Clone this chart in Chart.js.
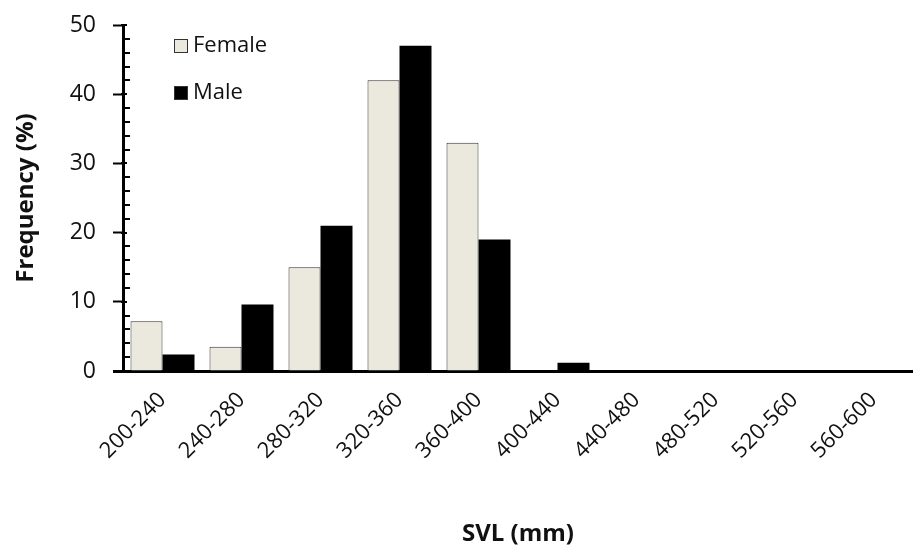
<!DOCTYPE html>
<html>
<head>
<meta charset="utf-8">
<script src="https://cdn.jsdelivr.net/npm/chart.js@4/dist/chart.umd.min.js"></script>
<style>
  html, body { margin: 0; padding: 0; background: #fff; }
  #wrap { width: 913px; height: 555px; }
</style>
</head>
<body>
<div id="wrap"><canvas id="canvas"></canvas></div>
<script>
// DATA
var svlClasses = ['200-240','240-280','280-320','320-360','360-400','400-440','440-480','480-520','520-560','560-600'];
var femaleFreq = [7.2, 3.5, 15, 42, 33, 0, 0, 0, 0, 0];
var maleFreq   = [2.4, 9.6, 21, 47, 19, 1.2, 0, 0, 0, 0];
var yTicks = [0, 10, 20, 30, 40, 50];

var FONT = '"Open Sans", Lato, sans-serif';

// legend in the top-left of the plot + minor ticks on y axis
var extras = {
  id: 'extras',
  afterDraw: function(chart) {
    var ctx = chart.ctx;
    var area = chart.chartArea;
    var y = chart.scales.y;
    ctx.save();
    // minor ticks
    ctx.strokeStyle = '#000';
    ctx.lineWidth = 2;
    for (var v = yTicks[0]; v <= yTicks[yTicks.length - 1]; v += 2) {
      if (v % 10 === 0) continue;
      var py = Math.round(y.getPixelForValue(v));
      ctx.beginPath();
      ctx.moveTo(area.left - 1, py);
      ctx.lineTo(area.left + 7, py);
      ctx.stroke();
    }
    // major ticks poke a little into the plot
    yTicks.forEach(function(t) {
      var py = Math.round(y.getPixelForValue(t));
      ctx.beginPath();
      ctx.moveTo(area.left - 2, py);
      ctx.lineTo(area.left + 4, py);
      ctx.stroke();
    });
    // x axis line reaches a bit left of the y axis
    ctx.lineWidth = 3;
    ctx.beginPath();
    ctx.moveTo(area.left - 10, area.bottom + 0.5);
    ctx.lineTo(area.left, area.bottom + 0.5);
    ctx.stroke();

    // legend
    ctx.font = '22px ' + FONT;
    ctx.textBaseline = 'middle';
    ctx.textAlign = 'left';
    chart.data.datasets.forEach(function(ds, i) {
      var lx = area.left + 51;
      var ly = area.top + 21 + i * 47;
      ctx.fillStyle = ds.backgroundColor;
      ctx.fillRect(lx, ly - 7, 14, 14);
      ctx.lineWidth = 1;
      ctx.strokeStyle = '#333';
      ctx.strokeRect(lx + 0.5, ly - 6.5, 13, 13);
      ctx.fillStyle = '#111';
      ctx.fillText(ds.label, lx + 19, ly);
    });
    ctx.restore();
  }
};

var config = {
  type: 'bar',
  data: {
    labels: svlClasses,
    datasets: [
      {
        label: 'Female',
        data: femaleFreq,
        backgroundColor: '#ebe9dd',
        borderColor: '#333',
        borderWidth: 1,
        borderSkipped: 'start'
      },
      {
        label: 'Male',
        data: maleFreq,
        backgroundColor: '#000',
        borderColor: '#000',
        borderWidth: 0
      }
    ]
  },
  options: {
    responsive: true,
    maintainAspectRatio: false,
    animation: false,
    devicePixelRatio: 1,
    categoryPercentage: 0.81,
    barPercentage: 1.0,
    layout: { padding: { top: 25, right: 0, bottom: 0, left: 0 } },
    plugins: {
      legend: { display: false },
      tooltip: { enabled: false }
    },
    scales: {
      x: {
        grid: { display: false, drawTicks: false },
        border: { display: true, color: '#000', width: 3 },
        ticks: {
          color: '#111',
          font: { family: FONT, size: 22 },
          minRotation: 45,
          maxRotation: 45,
          padding: 16,
          autoSkip: false
        },
        title: {
          display: true,
          text: 'SVL (mm)',
          color: '#111',
          font: { family: FONT, size: 24, weight: 'bold' },
          padding: { top: 0, bottom: 6 }
        },
        afterFit: function(s) { s.height = 184; }
      },
      y: {
        min: yTicks[0],
        max: yTicks[yTicks.length - 1],
        grid: {
          drawOnChartArea: false,
          drawTicks: true,
          tickLength: 10,
          tickWidth: 2,
          tickColor: '#000'
        },
        border: { display: true, color: '#000', width: 3 },
        ticks: {
          stepSize: 10,
          color: '#111',
          font: { family: FONT, size: 23 },
          padding: 17
        },
        title: {
          display: true,
          text: 'Frequency (%)',
          color: '#111',
          font: { family: FONT, size: 24, weight: 'bold' },
          padding: { top: 12, bottom: 0 }
        },
        afterFit: function(s) {
          s.width = 123;
          s.paddingTop = 0;
          s.paddingBottom = 0;
        }
      }
    }
  },
  plugins: [extras]
};

var freqChart = new Chart(document.getElementById('canvas').getContext('2d'), config);
</script>
</body>
</html>
